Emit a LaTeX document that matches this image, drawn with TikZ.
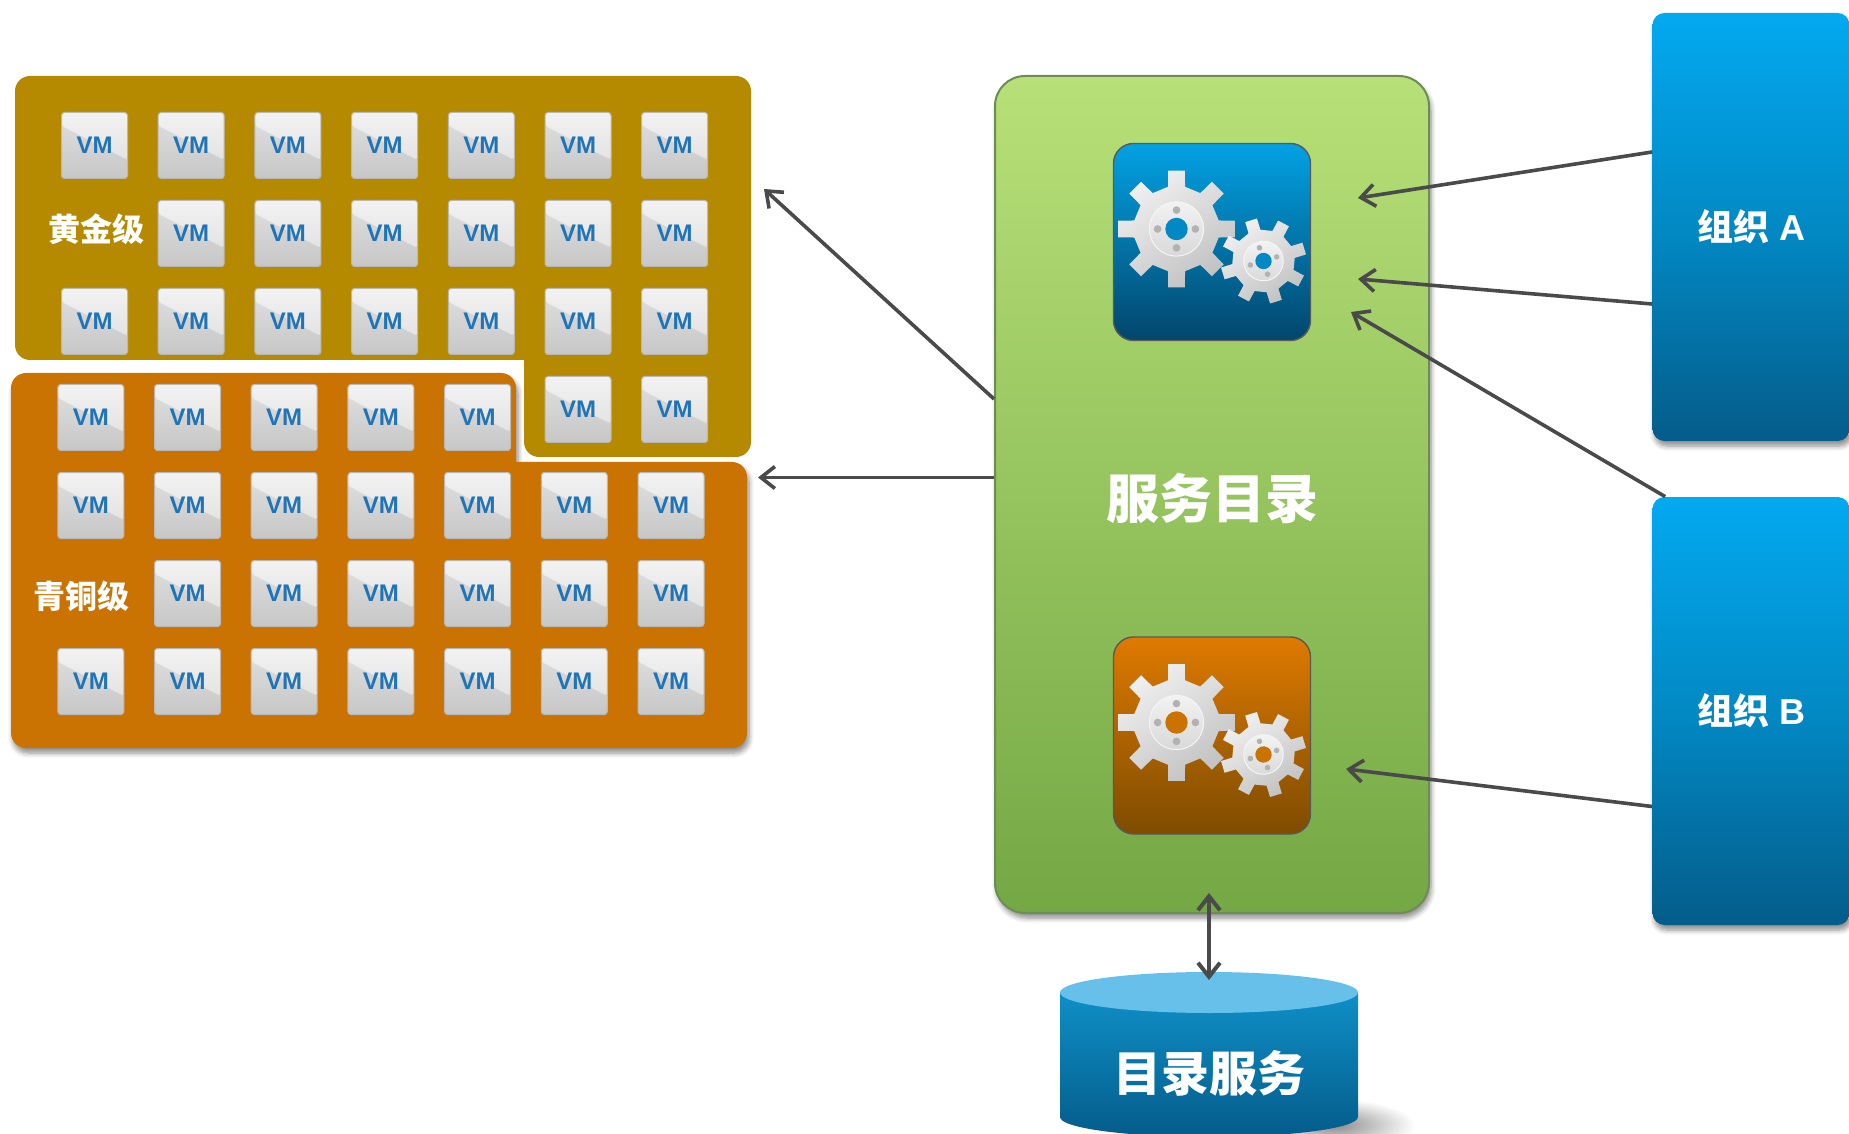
\documentclass[tikz,border=0pt]{standalone}
\usepackage{fontspec}
\setmainfont{Liberation Sans}
\newfontfamily\cjk{Noto Sans CJK SC}
\usetikzlibrary{arrows.meta,calc,positioning,shadows.blur}

\definecolor{goldbg}{HTML}{B68A00}
\definecolor{bronzebg}{HTML}{CA7202}
\definecolor{vmblue}{HTML}{1F74B8}
\definecolor{linkgrey}{HTML}{4A4A4A}
\definecolor{orgtop}{HTML}{03A9F0}
\definecolor{orgmid}{HTML}{0289C4}
\definecolor{orgbot}{HTML}{045C8A}
\definecolor{cattop}{HTML}{B8E078}
\definecolor{catbot}{HTML}{74A845}
\definecolor{catline}{HTML}{6E8C55}
\definecolor{diskcap}{HTML}{66C0EA}

\tikzset{
	softshadow/.style={blur shadow={shadow blur steps=6,shadow xshift=1pt,shadow yshift=-2.5pt,shadow blur radius=2.5pt,shadow opacity=45}},
	vmbox/.style={rectangle,rounded corners=1.5pt,minimum size=33pt,inner sep=0pt,draw=black!28,line width=.5pt,
		top color=black!12,bottom color=black!22,font=\fontsize{12}{13}\selectfont\bfseries,text=vmblue,
		path picture={\shade[top color=black!5,bottom color=black!13]
			(path picture bounding box.north west) -- (path picture bounding box.north east)
			-- ($(path picture bounding box.south east)!.28!(path picture bounding box.north east)$)
			-- ($(path picture bounding box.south west)!.8!(path picture bounding box.north west)$) -- cycle;}},
	tierlabel/.style={font=\cjk\fontsize{16}{17}\selectfont\bfseries,text=white,inner sep=0pt},
	orgbox/.style={rectangle,rounded corners=6pt,minimum width=98.5pt,minimum height=214pt,inner sep=0pt,softshadow,
		top color=orgtop,bottom color=orgbot,middle color=orgmid,text=white,font=\fontsize{18}{19}\selectfont\bfseries},
	iconbox/.style={rectangle,rounded corners=10pt,minimum size=98.5pt,inner sep=0pt,draw=black!65,line width=.7pt},
	link/.style={draw=linkgrey,line width=1.8pt,-{Straight Barb[length=7pt,width=11pt,line width=1.8pt]}},
}

% one wheel: centre, size, turn, colour of the hole
\newcommand{\gearwheel}[4]{
	\begin{scope}[shift={(#1)},rotate=#3,scale=#2]
		\shade[top color=black!6,bottom color=black!24,shading angle=35]
			(-11.4:.73) foreach \a in {0,45,...,315} {
				-- (\a-11.4:.73) -- (\a-8.2:1) -- (\a+8.2:1) -- (\a+11.4:.73)} -- cycle;
		\shade[top color=black!5,bottom color=black!15,draw=black!4,line width=.5pt] (0,0) circle (.46);
		\fill[#4] (0,0) circle (.19);
		\foreach \a in {0,90,180,270}
			\fill[black!30] (\a:.32) circle (.065);
	\end{scope}
}
\newcommand{\gearicon}[2]{
	\gearwheel{$(#1.center)+(-35.5,-13)$}{59}{0}{#2}
	\gearwheel{$(#1.center)+(51.5,19)$}{43}{17}{#2}
}

\begin{document}
\begin{tikzpicture}[x=.5pt,y=-.5pt]
	\useasboundingbox (0,0) rectangle (1849,1134);

	% tiers
	\fill[goldbg,rounded corners=7.5pt] (15,76) -- (751,76) -- (751,457) -- (524,457) [sharp corners] -- (524,360) [rounded corners=7.5pt] -- (15,360) -- cycle;
	\fill[bronzebg,rounded corners=7.5pt,softshadow] (11,373) -- (516,373) [sharp corners] -- (516,462) [rounded corners=7.5pt] -- (747,462) -- (747,748) -- (11,748) -- cycle;

	\foreach \r/\first/\last in {1/1/7,2/2/7,3/1/7,4/6/7}
		\foreach \c in {\first,...,\last}
			\node[vmbox] (gold-\r-\c) at ({94.5+96.7*(\c-1)},{145.5+88*(\r-1)}) {VM};
	\foreach \r/\first/\last in {1/1/5,2/1/7,3/2/7,4/1/7}
		\foreach \c in {\first,...,\last}
			\node[vmbox] (bronze-\r-\c) at ({90.8+96.7*(\c-1)},{417.5+88*(\r-1)}) {VM};
	\node[tierlabel] (goldlabel) at (96,229) {黄金级};
	\node[tierlabel] (bronzelabel) at (81,596) {青铜级};

	% catalog
	\node[rectangle,rounded corners=15pt,minimum width=217pt,minimum height=418.5pt,inner sep=0pt,softshadow,
		draw=catline,line width=1pt,top color=cattop,bottom color=catbot] (catalog) at (1212,494.5) {};
	\node[text=white,inner sep=0pt,font=\cjk\fontsize{26.5}{28}\selectfont\bfseries] (catalogtext) at (1212,498) {服务目录};

	\node[iconbox,top color={rgb,255:red,2;green,162;blue,228},bottom color={rgb,255:red,2;green,70;blue,108}] (iconblue) at (1212,242) {};
	\gearicon{iconblue}{orgmid}
	\node[iconbox,top color={rgb,255:red,222;green,122;blue,0},bottom color={rgb,255:red,126;green,76;blue,0}] (iconorange) at (1212,735.5) {};
	\gearicon{iconorange}{bronzebg}

	% organisations
	\node[orgbox] (orga) at (1751,227) {{\cjk 组织} A};
	\node[orgbox] (orgb) at (1751,711) {{\cjk 组织} B};

	% directory
	\shade[inner color=black!45,outer color=white] (1335,1125) ellipse (80 and 26);
	\shade[top color=orgmid!95!white,bottom color=orgbot] (1060,993) -- (1060,1117) arc[start angle=180,end angle=0,x radius=149,y radius=20] -- (1358,993) -- cycle;
	\fill[diskcap] (1209,992.5) ellipse (149 and 20.5);
	\node[text=white,inner sep=0pt,font=\cjk\fontsize{24}{25}\selectfont\bfseries] (directory) at (1209,1073) {目录服务};

	\coordinate (goldend) at (764,189);
	\coordinate (bronzeend) at (758,477.5);
	\coordinate (orgaend) at (1358,198);
	\coordinate (orgaendb) at (1358,279);
	\coordinate (orgbend) at (1351,312);
	\coordinate (orgbendb) at (1346,769);
	\coordinate (catalogbot) at (1209,893);
	\coordinate (directorytop) at (1209,980);

	\draw[link] ($(catalog.west)+(0,-95.5)$) -- (goldend);
	\draw[link] ($(catalog.west)+(0,-17)$) -- (bronzeend);
	\draw[link] ($(orga.west)+(0,-75)$) -- (orgaend);
	\draw[link] ($(orga.west)+(0,77)$) -- (orgaendb);
	\draw[link] (orgb.north west) ++(13,0) -- (orgbend);
	\draw[link] ($(orgb.west)+(0,95.5)$) -- (orgbendb);
	\draw[link,line width=2pt,{Straight Barb[length=7pt,width=11pt,line width=2pt]}-{Straight Barb[length=7pt,width=11pt,line width=2pt]}] (catalogbot) -- (directorytop);
\end{tikzpicture}
\end{document}
